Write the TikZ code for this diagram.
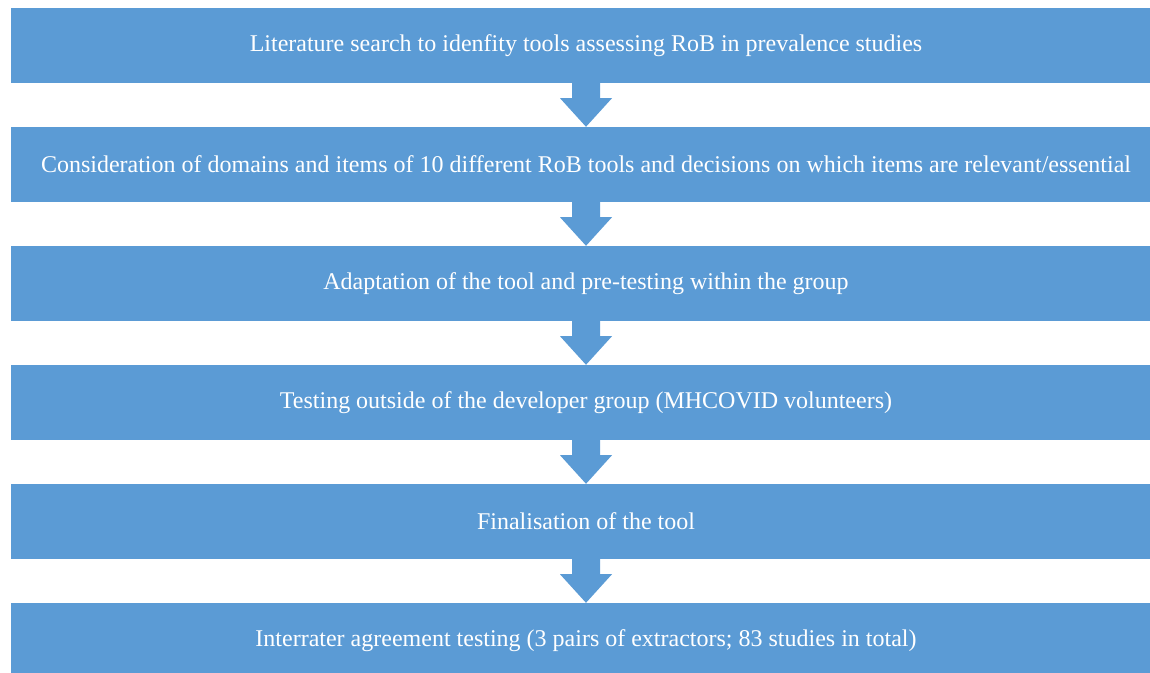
\documentclass[tikz,border=0pt]{standalone}
\usepackage{fontspec}
\setmainfont{Liberation Serif}
\usepackage{tikz}
\usetikzlibrary{calc}
\definecolor{boxblue}{HTML}{5B9BD5}

\tikzset{stepbox/.style={fill=boxblue, text=white, minimum width=1150pt, minimum height=75pt,
    inner sep=0pt, font=\fontsize{24}{28}\selectfont}}

\begin{document}
\begin{tikzpicture}[x=1pt,y=-1pt]
\useasboundingbox (0,0) rectangle (1150,672);
\clip (0,0) rectangle (1150,672);
%% the six steps
\foreach \n/\txt [count=\i] in {s1/{Literature search to idenfity tools assessing RoB in prevalence studies},
    s2/{Consideration of domains and items of 10 different RoB tools and decisions on which items are relevant/essential},
    s3/{Adaptation of the tool and pre-testing within the group},
    s4/{Testing outside of the developer group (MHCOVID volunteers)},
    s5/{Finalisation of the tool},
    s6/{Interrater agreement testing (3 pairs of extractors; 83 studies in total)}}
    \node[stepbox] (\n) at (586,{45.5+119*(\i-1)}) {\txt};
%% block arrows between the steps
\foreach \a/\b in {s1/s2, s2/s3, s3/s4, s4/s5, s5/s6}
    \fill[boxblue] ($(\a.south)+(-14,0)$) -- ($(\a.south)+(-14,15)$) -- ($(\a.south)+(-26,15)$)
        -- (\b.north) -- ($(\a.south)+(26,15)$) -- ($(\a.south)+(14,15)$) -- ($(\a.south)+(14,0)$) -- cycle;
\end{tikzpicture}
\end{document}
